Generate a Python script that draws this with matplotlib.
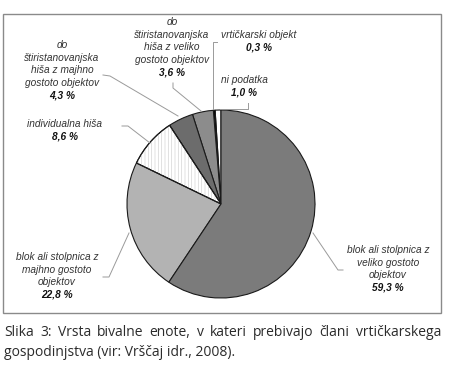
import numpy as np
import matplotlib.pyplot as plt
from matplotlib.patches import Wedge, Rectangle

# [Data]______________________________________________________________________
names = ["ni podatka",
         "vrtičkarski objekt",
         "do\nštiristanovanjska\nhiša z veliko\ngostoto objektov",
         "do\nštiristanovanjska\nhiša z majhno\ngostoto objektov",
         "individualna hiša",
         "blok ali stolpnica z\nmajhno gostoto\nobjektov",
         "blok ali stolpnica z\nveliko gostoto\nobjektov"]
shares = [1.0, 0.3, 3.6, 4.3, 8.6, 22.8, 59.3]
share_labels = ["1,0 %", "0,3 %", "3,6 %", "4,3 %", "8,6 %", "22,8 %", "59,3 %"]
caption_1 = "Slika 3: Vrsta bivalne enote, v kateri prebivajo člani vrtičkarskega"
caption_2 = "gospodinjstva (vir: Vrščaj idr., 2008)."

# [Layout]____________________________________________________________________
W, H = 474, 374
def Y(y):
    return H - y

colors = ["white", "black", "#8c8c8c", "#6c6c6c", "white", "#b3b3b3", "#7b7b7b"]
# label anchor: centre x, y of first line (pixels from top)
label_pos = [(244, 80), (259, 35), (172, 22), (62, 45), (65, 124), (57, 257), (388, 250)]
leaders = [[(220, 109), (248, 109), (248, 103)],
           [(213, 109), (213, 42), (217, 42)],
           [(173, 83), (173, 88), (201, 111)],
           [(103, 75), (110, 76), (178, 116)],
           [(122, 126), (128, 126), (150, 143)],
           [(103, 277), (109, 277), (129, 233)],
           [(343, 270), (338, 270), (313, 233)]]
step = 12.6

fig = plt.figure(figsize=(W / 100, H / 100), dpi=100)
ax = fig.add_axes([0, 0, 1, 1])

cx, cy, r = 221, Y(204), 94
wedges, _ = ax.pie(shares, colors=colors, startangle=90, counterclock=True,
                   center=(cx, cy), radius=r, frame=True,
                   wedgeprops=dict(edgecolor="#1a1a1a", linewidth=0.8))
ax.set_xlim(0, W)
ax.set_ylim(0, H)
ax.axis("off")

# faint vertical hatching on the white "individualna hisa" slice
w = wedges[4]
plt.rcParams["hatch.linewidth"] = 0.5
ax.add_patch(Wedge((cx, cy), r, w.theta1, w.theta2, facecolor="none",
                   edgecolor="#d4d4d4", hatch="|||||", linewidth=0, zorder=w.get_zorder() + 0.1))
ax.add_patch(Wedge((cx, cy), r, w.theta1, w.theta2, facecolor="none",
                   edgecolor="#1a1a1a", linewidth=0.8, zorder=w.get_zorder() + 0.2))

for pts in leaders:
    xs = [p[0] for p in pts]
    ys = [Y(p[1]) for p in pts]
    ax.plot(xs, ys, color="#9a9a9a", linewidth=0.7)

for name, pct, (lx, ly) in zip(names, share_labels, label_pos):
    lines = name.split("\n")
    for i, line in enumerate(lines):
        ax.text(lx, Y(ly + i * step), line, ha="center", va="center",
                fontsize=7.3, style="italic", family="Liberation Sans", color="#333333")
    ax.text(lx, Y(ly + len(lines) * step), pct, ha="center", va="center",
            fontsize=7.3, style="italic", weight="bold", family="Liberation Sans", color="#111111")

ax.add_patch(Rectangle((3, Y(313)), 438, 299, facecolor="none", edgecolor="#8a8a8a", linewidth=1.0))

# [Caption, first line justified]______________________________________________
cap_kw = dict(fontsize=10, family="Open Sans", color="#2b2b2b", va="center", ha="left")
words = caption_1.split(" ")
objs = [ax.text(0, Y(332), wd, **cap_kw) for wd in words]
fig.canvas.draw()
rend = fig.canvas.get_renderer()
widths = [o.get_window_extent(rend).width for o in objs]
left, right = 4, 441
gap = (right - left - sum(widths)) / (len(words) - 1)
x = left
for o, wd in zip(objs, widths):
    o.set_x(x)
    x += wd + gap
ax.text(left, Y(353), caption_2, **cap_kw)

fig.savefig("out.png", dpi=100)
